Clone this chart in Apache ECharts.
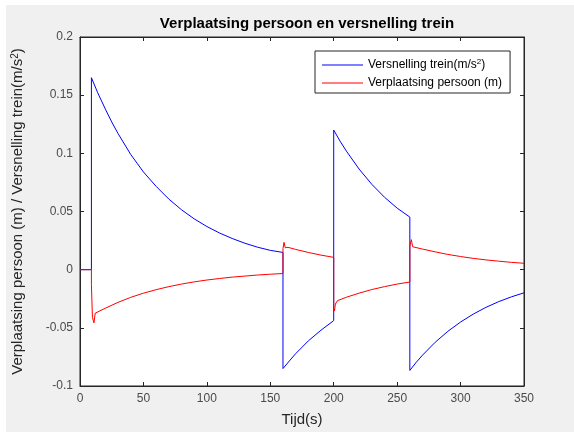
<!DOCTYPE html>
<html><head><meta charset="utf-8">
<script src="https://cdn.jsdelivr.net/npm/echarts@6/dist/echarts.min.js"></script>
<style>
html,body{margin:0;padding:0;background:#fff;width:574px;height:432px;overflow:hidden}
#bg{position:absolute;left:6px;top:5px;right:0;bottom:0;background:#f0f0f0}
#chart{position:absolute;left:0;top:0;width:574px;height:432px}
</style></head><body><div id="bg"></div><div id="chart"></div>
<script>
// ---- data ----
const xTicks = [0, 50, 100, 150, 200, 250, 300, 350];
const xTickLabels = ['0', '50', '100', '150', '200', '250', '300', '350'];
const yTicks = [-0.1, -0.05, 0, 0.05, 0.1, 0.15, 0.2];
const yTickLabels = ['-0.1', '-0.05', '0', '0.05', '0.1', '0.15', '0.2'];

// Versnelling trein (blue)
const accTime = [0, 9, 9, 14, 20, 25, 30, 35, 40, 45, 50, 60, 70, 80, 90, 100, 110, 120, 130, 140, 150, 160,
  160, 165, 170, 180, 190, 200,
  200, 205, 210, 220, 230, 240, 250, 260,
  260, 265, 270, 280, 290, 300, 310, 320, 330, 340, 350];
const accValue = [0, 0, 0.165, 0.152, 0.138, 0.127, 0.117, 0.108, 0.099, 0.0915, 0.084, 0.0716, 0.0607, 0.0515, 0.0437, 0.0371, 0.0315, 0.0268, 0.0227, 0.0193, 0.0166, 0.0148,
  -0.085, -0.0785, -0.0722, -0.0612, -0.052, -0.0438,
  0.12, 0.1105, 0.1019, 0.0865, 0.0734, 0.0623, 0.0529, 0.0452,
  -0.0866, -0.0797, -0.0735, -0.0624, -0.053, -0.045, -0.0382, -0.0324, -0.0275, -0.0234, -0.0199];

// Verplaatsing persoon (red)
const dispTime = [0, 9, 9, 9.8, 9.8, 11, 12, 20, 30, 40, 50, 60, 70, 80, 90, 100, 110, 120, 130, 140, 150, 160,
  160, 160.8, 161.8, 164, 170, 180, 190, 200,
  200, 200.6, 201.3, 202, 203, 210, 220, 230, 240, 250, 260,
  260, 261.2, 262.2, 270, 280, 290, 300, 310, 320, 330, 340, 350];
const dispValue = [0, 0, -0.013, -0.013, -0.041, -0.0457, -0.0374, -0.0331, -0.0281, -0.0238, -0.0202, -0.0172, -0.0146, -0.0124, -0.0105, -0.0089, -0.0076, -0.0064, -0.0055, -0.0046, -0.0039, -0.0033,
  0.018, 0.0235, 0.0188, 0.0192, 0.0174, 0.0148, 0.0125, 0.0106,
  -0.033, -0.0355, -0.0295, -0.0285, -0.0266, -0.0237, -0.0202, -0.0171, -0.0146, -0.0124, -0.0106,
  0.02, 0.0258, 0.0197, 0.0177, 0.0153, 0.0131, 0.0113, 0.0097, 0.0084, 0.0073, 0.0063, 0.0055];

const seriesNames = ['Versnelling trein(m/s{sup|2})', 'Verplaatsing persoon (m)'];
const titleText = 'Verplaatsing persoon en versnelling trein';
const xName = 'Tijd(s)';
const yName = 'Verplaatsing persoon (m) / Versnelling trein(m/s{sup|2})';

// ---- chart ----
const FONT = '"Liberation Sans", Arial, Helvetica, sans-serif';
const AX = '#262626';
function supRich(size, color) {
  return { sup: { fontSize: size, verticalAlign: 'top', fontFamily: FONT, color: color } };
}
function lbl(ticks, labels) {
  return v => {
    for (let i = 0; i < ticks.length; i++) if (Math.abs(ticks[i] - v) < 1e-9) return labels[i];
    return '';
  };
}
const pairs = (t, v) => t.map((x, i) => [x, v[i]]);

const chart = echarts.init(document.getElementById('chart'), null, { renderer: 'canvas' });
const baseX = { type: 'value', min: 0, max: 350, interval: 50,
  axisLine: { show: true, onZero: false, lineStyle: { color: AX, width: 1 } },
  axisTick: { show: true, inside: true, length: 4, lineStyle: { color: AX } },
  splitLine: { show: false } };
const baseY = { type: 'value', min: -0.1, max: 0.2, interval: 0.05,
  axisLine: { show: true, onZero: false, lineStyle: { color: AX, width: 1 } },
  axisTick: { show: true, inside: true, length: 4, lineStyle: { color: AX } },
  splitLine: { show: false } };

chart.setOption({
  animation: false,
  backgroundColor: 'transparent',
  title: { text: titleText, left: 302, top: 11, textAlign: 'center',
    textStyle: { fontFamily: FONT, fontSize: 15, fontWeight: 'bold', color: '#000' } },
  grid: { left: 80, right: 50, top: 37, bottom: 45, show: true, backgroundColor: '#fff', borderColor: AX, borderWidth: 1 },
  legend: {
    orient: 'vertical', left: 315, top: 51, icon: 'rect',
    backgroundColor: '#fff', borderColor: AX, borderWidth: 1,
    padding: [7, 8, 3, 7], itemGap: 4, itemWidth: 41, itemHeight: 1,
    textStyle: { fontFamily: FONT, fontSize: 12, color: '#000', lineHeight: 14, rich: supRich(8, '#000') },
    data: seriesNames
  },
  xAxis: [
    Object.assign({}, baseX, { position: 'bottom',
      name: xName, nameLocation: 'middle', nameGap: 26,
      nameTextStyle: { fontFamily: FONT, fontSize: 15, color: AX },
      axisLabel: { show: true, margin: 7, fontFamily: FONT, fontSize: 12, color: '#4a4a4a', formatter: lbl(xTicks, xTickLabels) } }),
    Object.assign({}, baseX, { position: 'top', axisLabel: { show: false } })
  ],
  yAxis: [
    Object.assign({}, baseY, { position: 'left',
      name: yName, nameLocation: 'middle', nameGap: 55, nameRotate: 90,
      nameTextStyle: { fontFamily: FONT, fontSize: 15, color: AX, rich: supRich(10, AX) },
      axisLabel: { show: true, margin: 7, fontFamily: FONT, fontSize: 12, color: '#4a4a4a', formatter: lbl(yTicks, yTickLabels) } }),
    Object.assign({}, baseY, { position: 'right', axisLabel: { show: false } })
  ],
  series: [
    { name: seriesNames[0], type: 'line', xAxisIndex: 0, yAxisIndex: 0, symbol: 'none', showSymbol: false,
      color: '#0000ff', lineStyle: { color: '#0000ff', width: 1 }, data: pairs(accTime, accValue) },
    { name: seriesNames[1], type: 'line', xAxisIndex: 0, yAxisIndex: 0, symbol: 'none', showSymbol: false,
      color: '#ff0000', lineStyle: { color: '#ff0000', width: 1 }, data: pairs(dispTime, dispValue) }
  ]
});
</script></body></html>
